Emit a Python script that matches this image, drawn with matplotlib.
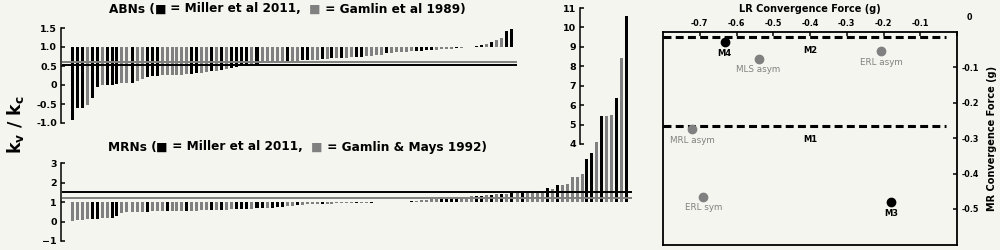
import matplotlib
matplotlib.use('Agg')
import matplotlib.pyplot as plt
from matplotlib.offsetbox import TextArea, HPacker, AnnotationBbox

plt.rcParams['font.family'] = ['DejaVu Sans']
plt.rcParams['font.weight'] = 'bold'
plt.rcParams['axes.labelweight'] = 'bold'
plt.rcParams['mathtext.fontset'] = 'dejavusans'

BG = '#f4f5ee'
GRAY = '#808080'

# ABNs kv/kc, sorted (k = Miller et al 2011, g = Gamlin et al 1989)
abn_vals = [-0.92, -0.60, -0.60, -0.53, -0.35, -0.05, 0.00, 0.00, 0.00, 0.02,
            0.04, 0.06, 0.06, 0.10, 0.15, 0.22, 0.24, 0.25, 0.27, 0.27,
            0.27, 0.27, 0.27, 0.28, 0.30, 0.31, 0.32, 0.34, 0.37, 0.38,
            0.39, 0.41, 0.46, 0.48, 0.49, 0.50, 0.52, 0.55, 0.57, 0.59,
            0.60, 0.61, 0.62,
            0.62, 0.63, 0.64, 0.65, 0.66, 0.66, 0.67, 0.68, 0.69, 0.70,
            0.71, 0.71, 0.72, 0.73, 0.74, 0.75, 0.76, 0.77, 0.78, 0.80,
            0.84, 0.85, 0.86, 0.87, 0.88, 0.89, 0.90, 0.90, 0.91, 0.92,
            0.93, 0.94, 0.95, 0.96, 0.97, 0.98, 0.99, 1.00, 1.02, 1.04,
            1.08, 1.13, 1.18, 1.25, 1.43, 1.47]
abn_src = "kkkgkkgkkkggkggkkkggggggkkggkgkgkkkkgkggggg" + \
          "kggkkggkgkgkggkkggggkgggggkkkkggggkgggkkgkggkk"

# MRNs kv/kc, sorted (k = Miller et al 2011, g = Gamlin & Mays 1992)
mrn_vals = [0.02, 0.08, 0.10, 0.12, 0.15, 0.15, 0.18, 0.18, 0.20, 0.27,
            0.43, 0.47, 0.47, 0.48, 0.48, 0.50, 0.52, 0.52, 0.52, 0.53,
            0.55, 0.55, 0.55, 0.57, 0.57, 0.57, 0.58, 0.58, 0.60, 0.60,
            0.60, 0.62, 0.63, 0.65, 0.65, 0.65, 0.67, 0.68, 0.68, 0.70,
            0.72, 0.73, 0.77, 0.78, 0.80, 0.83, 0.85, 0.88, 0.89, 0.90,
            0.91, 0.92, 0.93, 0.94, 0.95, 0.95,
            0.96, 0.97, 0.97, 0.98, 0.98, 0.99, 0.99, 0.99, 0.995, 0.995,
            1.02, 1.03, 1.05, 1.07, 1.10, 1.12, 1.15, 1.17, 1.19, 1.21,
            1.23, 1.25, 1.27, 1.28, 1.30, 1.32, 1.34, 1.36, 1.38, 1.40,
            1.42, 1.44, 1.45, 1.46, 1.48, 1.50, 1.52, 1.55, 1.58, 1.75,
            1.70, 1.88, 1.90, 1.93, 2.28, 2.32, 2.45, 3.20, 3.55, 4.08,
            5.42, 5.42, 5.48, 6.37, 8.40, 10.60]
mrn_src = "ggggkkggkkgggggkgggkgggkggggkgkggkkkgkkgkkkggkggggkggggg" + \
          "gkggkgggkg" + "kkkgggggkkkkgggkkgkgkgkgkggggkgkgggggkkgkggkgk"

assert len(abn_vals) == len(abn_src)
assert len(mrn_vals) == len(mrn_src)

abn_mean_miller, abn_mean_gamlin = 0.52, 0.60
mrn_mean_miller, mrn_mean_gamlin = 1.50, 1.22

# right panel: convergence forces (g)
pt_names = ['M4', 'MLS asym', 'ERL asym', 'MRL asym', 'ERL sym', 'M3']
pt_lr = [-0.632, -0.54, -0.207, -0.72, -0.69, -0.18]
pt_mr = [-0.028, -0.075, -0.054, -0.275, -0.465, -0.48]
pt_model = [True, False, False, False, False, True]
line_names = ['M2', 'M1']
line_mr = [-0.013, -0.265]

colmap = {'k': 'black', 'g': GRAY}

fig = plt.figure(figsize=(10, 2.5), dpi=100, facecolor=BG)

XL = (-2.2, 113.6)

def style_left(ax, lo, hi):
    for s in ['top', 'right', 'bottom']:
        ax.spines[s].set_visible(False)
    ax.spines['left'].set_bounds(lo, hi)
    ax.spines['left'].set_linewidth(1.1)
    ax.set_xticks([])
    ax.tick_params(axis='y', direction='in', length=3, width=1.1,
                   labelsize=6.8, pad=3)
    ax.set_xlim(*XL)
    ax.patch.set_alpha(0)

# ABNs
ax1 = fig.add_axes([0.061, 0.508, 0.579, 0.38])
ax1.bar(range(len(abn_vals)), [v - 1 for v in abn_vals], bottom=1, width=0.6,
        color=[colmap[c] for c in abn_src], zorder=2)
ax1.hlines(abn_mean_gamlin, -2, 89, color=GRAY, lw=1.4, zorder=3)
ax1.hlines(abn_mean_miller, -2, 89, color='black', lw=1.4, zorder=4)
ax1.set_ylim(-1, 1.5)
ax1.set_yticks([1.5, 1.0, 0.5, 0, -0.5, -1.0])
ax1.set_yticklabels(['1.5', '1.0', '0.5', '0', '-0.5', '-1.0'])
style_left(ax1, -1, 1.5)

# MRNs (one tall axis, drawn over the ABN one)
ax2 = fig.add_axes([0.061, 0.036, 0.579, 0.932])
ax2.bar(range(len(mrn_vals)), [v - 1 for v in mrn_vals], bottom=1, width=0.6,
        color=[colmap[c] for c in mrn_src], zorder=2)
ax2.hlines(mrn_mean_gamlin, -2, 112, color=GRAY, lw=1.4, zorder=3)
ax2.hlines(mrn_mean_miller, -2, 112, color='black', lw=1.4, zorder=4)
ax2.set_ylim(-1, 11)
ax2.set_yticks([3, 2, 1, 0, -1])
style_left(ax2, -1, 3)

# upper part of the MRN scale
ax3 = fig.add_axes([0.58, 0.036, 0.0005, 0.932])
ax3.set_ylim(-1, 11)
ax3.set_yticks(range(4, 12))
style_left(ax3, 4, 11)

# titles with coloured squares
def title(group, ref_b, xy):
    tp = dict(fontsize=8.7, fontweight='bold', color='black')
    parts = [TextArea(group + ' (', textprops=tp),
             TextArea('\u25a0', textprops=dict(tp, color='black')),
             TextArea(' = Miller et al 2011,  ', textprops=tp),
             TextArea('\u25a0', textprops=dict(tp, color=GRAY)),
             TextArea(' = ' + ref_b + ')', textprops=tp)]
    box = HPacker(children=parts, align='baseline', pad=0, sep=0)
    ab = AnnotationBbox(box, xy, xycoords='figure fraction', frameon=False,
                        box_alignment=(0.5, 0.5))
    fig.add_artist(ab)

title('ABNs', 'Gamlin et al 1989', (0.287, 1 - 9 / 250))
title('MRNs', 'Gamlin & Mays 1992', (0.297, 1 - 147 / 250))

fig.text(0.015, 0.5, r'$\mathbf{k_v\ /\ k_c}$', rotation=90, fontsize=12.5,
         ha='center', va='center')

# right panel
ax4 = fig.add_axes([0.663, 0.02, 0.294, 0.852])
ax4.set_facecolor(BG)
ax4.set_xlim(-0.8, 0)
ax4.set_ylim(-0.602, 0)
for s in ax4.spines.values():
    s.set_linewidth(1.3)
ax4.xaxis.tick_top()
ax4.xaxis.set_label_position('top')
ax4.yaxis.tick_right()
ax4.yaxis.set_label_position('right')
ax4.set_xticks([-0.7, -0.6, -0.5, -0.4, -0.3, -0.2, -0.1, 0])
ax4.set_xticklabels(['-0.7', '-0.6', '-0.5', '-0.4', '-0.3', '-0.2', '-0.1', ''])
ax4.set_yticks([-0.1, -0.2, -0.3, -0.4, -0.5])
ax4.set_yticklabels(['-0.1', '-0.2', '-0.3', '-0.4', '-0.5'])
ax4.tick_params(direction='in', length=3, width=1.1, labelsize=5.8, pad=3)
ax4.annotate('0', (0, 0), xycoords='data', xytext=(9, 7.5),
             textcoords='offset points', ha='center', va='bottom',
             fontsize=5.8, annotation_clip=False)
ax4.set_xlabel('LR Convergence Force (g)', fontsize=7, fontweight='bold',
               labelpad=5)
ax4.set_ylabel('MR Convergence Force (g)', fontsize=7, fontweight='bold',
               labelpad=6)

for name, yv in zip(line_names, line_mr):
    ax4.plot([-0.8, -0.03], [yv, yv], color='black', lw=2.2,
             dashes=(2.6, 1.4), solid_capstyle='butt', clip_on=False)
    ax4.annotate(name, (-0.4, yv), xytext=(0, -6.5), textcoords='offset points',
                 ha='center', va='top', fontsize=6)

for name, lx, my, model in zip(pt_names, pt_lr, pt_mr, pt_model):
    c = 'black' if model else GRAY
    ax4.plot(lx, my, 'o', color=c, ms=6, mec=c)
    ax4.annotate(name, (lx, my), xytext=(0, -5), textcoords='offset points',
                 ha='center', va='top', fontsize=6 if model else 6.3,
                 fontweight='bold' if model else 'normal', color=c)

fig.savefig('out.png', dpi=100, facecolor=BG)
